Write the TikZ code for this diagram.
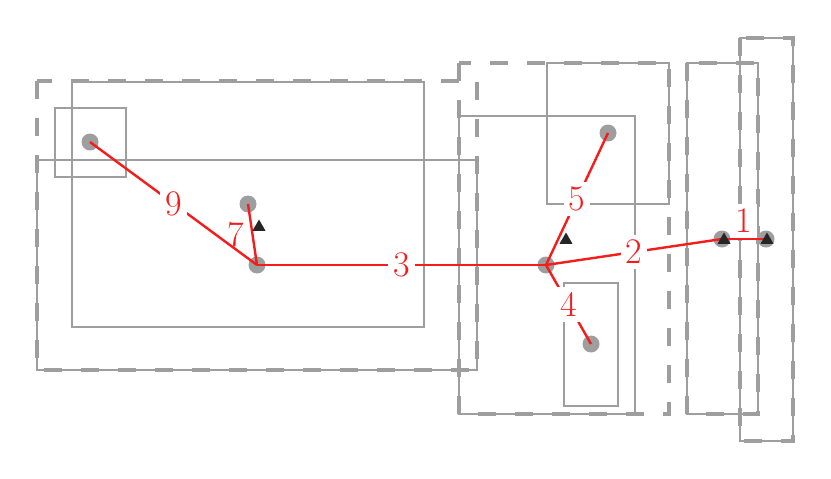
\documentclass[tikz,border=0pt]{standalone}
\usepackage{fontspec}
\usetikzlibrary{shapes.geometric}
\definecolor{lgray}{RGB}{158,158,158}
\definecolor{dgray}{RGB}{38,38,38}
\definecolor{lred}{RGB}{245,28,28}
\begin{document}
\begin{tikzpicture}[x=1pt,y=-1pt,
  box/.style={draw=lgray, line width=2pt},
  dbox/.style={draw=lgray, line width=4.5pt, dash pattern=on 18pt off 19pt},
  ptnode/.style={circle, fill=lgray, minimum size=17pt, inner sep=0pt},
  trinode/.style={regular polygon, regular polygon sides=3, fill=dgray, minimum size=15pt, inner sep=0pt},
  redge/.style={draw=lred, line width=2.4pt},
  lab/.style={fill=white, text=lred, inner sep=5pt, font=\fontsize{36}{40}\selectfont}]
\useasboundingbox (0,0) rectangle (831,479);
% left group
\draw[box] (72,82) rectangle (424,327);
\draw[box] (37,160) rectangle (477,370);
\draw[box] (55,108) rectangle (126,177);
\draw[dbox] (37,81) rectangle (477,370);
% middle group
\draw[box] (459,116) rectangle (635,414);
\draw[box] (547,63) rectangle (669,204);
\draw[box] (564,283) rectangle (618,406);
\draw[dbox] (459,63) rectangle (669,414);
% right group
\draw[box] (687,63) rectangle (758,414);
\draw[box] (740,38) rectangle (793,441);
\draw[dbox] (687,63) rectangle (758,414);
\draw[dbox] (740,38) rectangle (793,441);
% points
\node[ptnode] (p9) at (90,142) {};
\node[ptnode] (p7) at (248,204) {};
\node[ptnode] (ha) at (257,265) {};
\node[ptnode] (hb) at (546,265) {};
\node[ptnode] (p5) at (608,133) {};
\node[ptnode] (p4) at (591,344) {};
\node[ptnode] (q1) at (722,239) {};
\node[ptnode] (q2) at (766,239) {};
% edges
\draw[redge] (q1.center) -- node[lab, above, midway] {1} (q2.center);
\draw[redge] (hb.center) -- node[lab, midway] {2} (q1.center);
\draw[redge] (ha.center) -- node[lab, midway] {3} (hb.center);
\draw[redge] (hb.center) -- node[lab, midway] {4} (p4.center);
\draw[redge] (hb.center) -- node[lab, midway] {5} (p5.center);
\draw[redge] (p7.center) -- node[lab, fill=none, left, midway, xshift=-2pt] {7} (ha.center);
\draw[redge] (p9.center) -- node[lab, midway] {9} (ha.center);
% triangles
\node[trinode] (t1) at (259,227) {};
\node[trinode] (t2) at (566,240) {};
\node[trinode] (t3) at (724,240) {};
\node[trinode] (t4) at (767,240) {};
\end{tikzpicture}
\end{document}
